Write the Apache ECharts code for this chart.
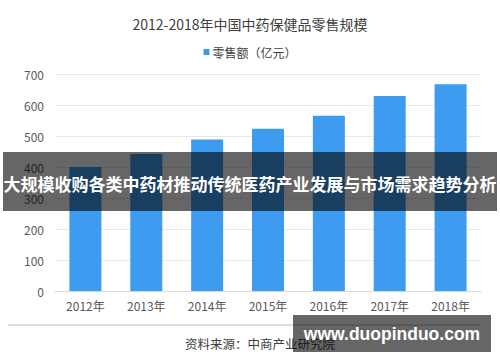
<!DOCTYPE html>
<html>
<head>
<meta charset="utf-8">
<script src="https://cdn.jsdelivr.net/npm/echarts@6/dist/echarts.min.js"></script>
<style>
html,body{margin:0;padding:0;background:#fff;}
#c{width:500px;height:362px;}
</style>
</head>
<body>
<div id="c"></div>
<script>
const titleText = '2012-2018年中国中药保健品零售规模';
const seriesName = '零售额（亿元）';
const categories = ['2012年','2013年','2014年','2015年','2016年','2017年','2018年'];
const values = [400, 442, 489, 523, 565, 629, 667];
const yTicks = [0, 100, 200, 300, 400, 500, 600, 700];
const sourceText = '资料来源：中商产业研究院';
const bannerText = '大规模收购各类中药材推动传统医药产业发展与市场需求趋势分析';
const watermarkText = 'www.duopinduo.com';

const FONT = '"Noto Sans CJK SC", "Noto Sans", sans-serif';
const chart = echarts.init(document.getElementById('c'), null, {renderer: 'svg'});
chart.setOption({
  animation: false,
  backgroundColor: '#ffffff',
  title: {
    text: titleText,
    left: 'center',
    top: 12,
    textStyle: {fontFamily: FONT, fontSize: 14, fontWeight: 'normal', color: '#404040'}
  },
  legend: {
    data: [seriesName],
    left: 'center',
    top: 41,
    itemWidth: 6,
    itemHeight: 6,
    itemGap: 10,
    icon: 'rect',
    textStyle: {fontFamily: FONT, fontSize: 12, color: '#404040', padding: [0,0,0,-2]}
  },
  grid: {left: 55, right: 19, top: 74, bottom: 71, containLabel: false},
  xAxis: {
    type: 'category',
    data: categories,
    axisLine: {show: true, lineStyle: {color: '#d9d9d9', width: 1}},
    axisTick: {show: false},
    axisLabel: {fontFamily: FONT, fontSize: 12, color: '#595959', margin: 8}
  },
  yAxis: {
    type: 'value',
    min: yTicks[0],
    max: yTicks[yTicks.length - 1],
    interval: 100,
    axisLine: {show: false},
    axisTick: {show: false},
    axisLabel: {fontFamily: FONT, fontSize: 12, color: '#595959', margin: 11},
    splitLine: {lineStyle: {color: '#e8e8e8', width: 1}}
  },
  series: [{
    name: seriesName,
    type: 'bar',
    data: values,
    barWidth: 32,
    itemStyle: {color: '#3d9cf0'}
  }],
  graphic: [
    {type: 'line', z: 50, shape: {x1: 8, y1: 325, x2: 481, y2: 325}, style: {stroke: '#a9c0d8', lineWidth: 1}},
    {type: 'text', z: 50, x: 185, y: 343, style: {text: sourceText, fontFamily: FONT, fontSize: 12.5, fill: '#404040', textVerticalAlign: 'middle', verticalAlign: 'middle'}},
    {type: 'rect', z: 100, shape: {x: 3, y: 152, width: 494, height: 59}, style: {fill: 'rgba(0,0,0,0.6)'}},
    {type: 'text', z: 101, x: 250, y: 183, style: {text: bannerText, fontFamily: FONT, fontSize: 17, fontWeight: 'bold', fill: '#ffffff', align: 'center', textAlign: 'center', verticalAlign: 'middle', textVerticalAlign: 'middle'}},
    {type: 'rect', z: 100, shape: {x: 293, y: 315, width: 198, height: 37}, style: {fill: 'rgba(0,0,0,0.6)'}},
    {type: 'text', z: 101, x: 392, y: 334, style: {text: watermarkText, fontFamily: '"Liberation Sans", Arial, sans-serif', fontSize: 17.5, fontWeight: 'bold', fill: '#ffffff', align: 'center', textAlign: 'center', verticalAlign: 'middle', textVerticalAlign: 'middle'}}
  ]
});
</script>
</body>
</html>
